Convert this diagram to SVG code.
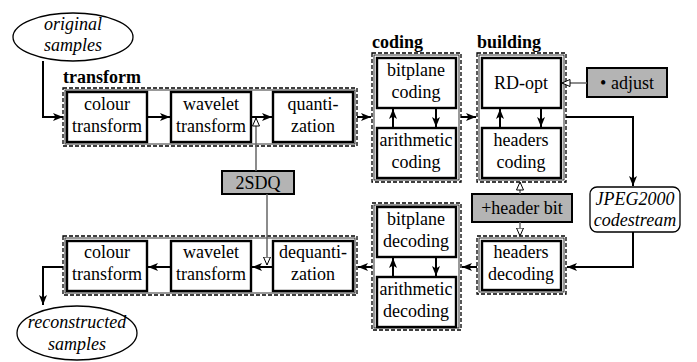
<svg xmlns="http://www.w3.org/2000/svg" width="697" height="362" viewBox="0 0 697 362">
<style>
text{font-size:18px;fill:#000;text-anchor:middle}
.it{font-style:italic}
.lbl{font-weight:bold;text-anchor:start}
.box{fill:#fff;stroke:#000;stroke-width:2.4}
.cont{fill:none;stroke:#000;stroke-width:1.3;stroke-dasharray:4 2}
.cin{fill:none;stroke:#000;stroke-width:0.8}
.gray{fill:#b4b4b4;stroke:#000;stroke-width:2}
.c{fill:none;stroke:#000;stroke-width:2}
.g{fill:none;stroke:#666;stroke-width:1.5}
</style>
<defs>
<marker id="ah" viewBox="0 0 10 8" refX="10" refY="4" markerWidth="10" markerHeight="8" markerUnits="userSpaceOnUse" orient="auto"><path d="M0,0 L10,4 L0,8 L2.5,4 Z" fill="#000"/></marker>
<marker id="oh" viewBox="0 0 9 8" refX="8.5" refY="4" markerWidth="9" markerHeight="8" markerUnits="userSpaceOnUse" orient="auto"><path d="M0.5,0.5 L8.5,4 L0.5,7.5 Z" fill="#fff" stroke="#000" stroke-width="1"/></marker>
</defs>
<g font-family="Liberation Serif, 'Times New Roman', serif">
<g id="containers">
<rect class="cont" x="63" y="88" width="294" height="58"/><rect class="cin" x="65" y="90" width="290" height="54"/>
<rect class="cont" x="372" y="53" width="89" height="129"/><rect class="cin" x="374" y="55" width="85" height="125"/>
<rect class="cont" x="477" y="53" width="89" height="129"/><rect class="cin" x="479" y="55" width="85" height="125"/>
<rect class="cont" x="477" y="236" width="89" height="58"/><rect class="cin" x="479" y="238" width="85" height="54"/>
<rect class="cont" x="372" y="203" width="89" height="127"/><rect class="cin" x="374" y="205" width="85" height="123"/>
<rect class="cont" x="63" y="236" width="294" height="59"/><rect class="cin" x="65" y="238" width="290" height="55"/>
<text class="lbl" x="63" y="83">transform</text>
<text class="lbl" x="372" y="48">coding</text>
<text class="lbl" x="477" y="48">building</text>
</g>

<g id="original"><ellipse cx="73" cy="37" rx="60" ry="24" fill="#fff" stroke="#000" stroke-width="1.3"/><text class="it" x="73" y="30">original</text><text class="it" x="73" y="51">samples</text></g>
<g id="colour1"><rect class="box" x="67" y="92" width="80" height="50"/><text x="107" y="110">colour</text><text x="107" y="132">transform</text></g>
<g id="wavelet1"><rect class="box" x="171" y="92" width="80" height="50"/><text x="211" y="110">wavelet</text><text x="211" y="132">transform</text></g>
<g id="quant"><rect class="box" x="273" y="92" width="80" height="50"/><text x="313" y="110">quanti-</text><text x="313" y="132">zation</text></g>
<g id="bitcoding"><rect class="box" x="377" y="58" width="79" height="50"/><text x="416" y="76">bitplane</text><text x="416" y="98">coding</text></g>
<g id="aricoding"><rect class="box" x="377" y="128" width="79" height="50"/><text x="416" y="146">arithmetic</text><text x="416" y="168">coding</text></g>
<g id="rdopt"><rect class="box" x="482" y="58" width="79" height="50"/><text x="521" y="89">RD-opt</text></g>
<g id="hcoding"><rect class="box" x="482" y="128" width="79" height="50"/><text x="521" y="146">headers</text><text x="521" y="168">coding</text></g>
<g id="adjust"><rect class="gray" x="587" y="68" width="80" height="29"/><text x="627" y="89">• adjust</text></g>
<g id="codestream"><rect x="590" y="187" width="90" height="45" rx="7" fill="#fff" stroke="#000" stroke-width="1.3"/><text class="it" x="635" y="205">JPEG2000</text><text class="it" x="635" y="226">codestream</text></g>
<g id="headerbit"><rect class="gray" x="472" y="194" width="100" height="28"/><text x="522" y="214">+header bit</text></g>
<g id="hdecoding"><rect class="box" x="482" y="241" width="79" height="49"/><text x="521" y="258">headers</text><text x="521" y="280">decoding</text></g>
<g id="bitdecoding"><rect class="box" x="377" y="207" width="79" height="50"/><text x="416" y="225">bitplane</text><text x="416" y="247">decoding</text></g>
<g id="aridecoding"><rect class="box" x="377" y="277" width="79" height="50"/><text x="416" y="295">arithmetic</text><text x="416" y="317">decoding</text></g>
<g id="dequant"><rect class="box" x="273" y="241" width="80" height="50"/><text x="313" y="258">dequanti-</text><text x="313" y="280">zation</text></g>
<g id="wavelet2"><rect class="box" x="171" y="241" width="80" height="50"/><text x="211" y="258">wavelet</text><text x="211" y="280">transform</text></g>
<g id="colour2"><rect class="box" x="67" y="241" width="80" height="50"/><text x="107" y="258">colour</text><text x="107" y="280">transform</text></g>
<g id="sdq"><rect class="gray" x="222" y="171" width="72" height="23"/><text x="258" y="189">2SDQ</text></g>
<g id="reconstructed"><ellipse cx="77" cy="333" rx="60" ry="27" fill="#fff" stroke="#000" stroke-width="1.3"/><text class="it" x="77" y="328">reconstructed</text><text class="it" x="77" y="350">samples</text></g>
</g>
<g id="connectors">
<path class="c" d="M43,61 V117 H63" marker-end="url(#ah)"/>
<path class="c" d="M147,117 H170" marker-end="url(#ah)"/>
<path class="c" d="M251,117 H272" marker-end="url(#ah)"/>
<path class="c" d="M357,117 H371" marker-end="url(#ah)"/>
<path class="c" d="M461,117 H476" marker-end="url(#ah)"/>
<path class="c" d="M393,128 V109" marker-end="url(#ah)"/>
<path class="c" d="M436,108 V127" marker-end="url(#ah)"/>
<path class="c" d="M500,128 V109" marker-end="url(#ah)"/>
<path class="c" d="M541,108 V127" marker-end="url(#ah)"/>
<path class="c" d="M566,117 H633 V186" marker-end="url(#ah)"/>
<path class="g" d="M587,83 H562" marker-end="url(#oh)"/>
<path class="g" d="M256,171 V118" marker-end="url(#oh)"/>
<path class="g" d="M267,194 V265" marker-end="url(#oh)"/>
<path class="g" d="M520,194 V182" marker-end="url(#oh)"/>
<path class="g" d="M520,222 V236" marker-end="url(#oh)"/>
<path class="c" d="M633,232 V267 H567" marker-end="url(#ah)"/>
<path class="c" d="M477,267 H462" marker-end="url(#ah)"/>
<path class="c" d="M372,267 H358" marker-end="url(#ah)"/>
<path class="c" d="M273,267 H252" marker-end="url(#ah)"/>
<path class="c" d="M171,267 H148" marker-end="url(#ah)"/>
<path class="c" d="M393,277 V258" marker-end="url(#ah)"/>
<path class="c" d="M436,257 V276" marker-end="url(#ah)"/>
<path class="c" d="M63,267 H43 V305" marker-end="url(#ah)"/>
</g>
</svg>
